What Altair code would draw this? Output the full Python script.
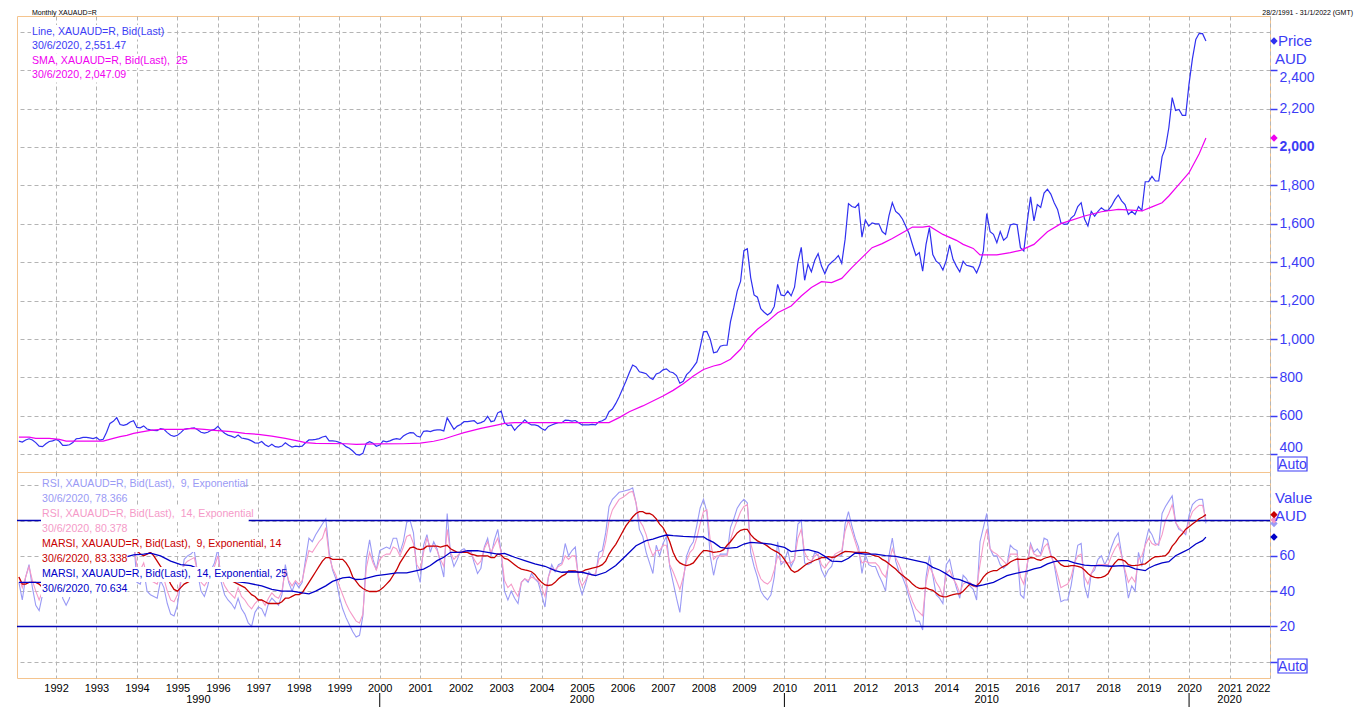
import altair as alt
import pandas as pd

# ---------------- values ----------------
# monthly closes, first value = Feb 1991 (month 1, counting from Jan 1991 = 0), last = Jun 2020
price = [
    469, 464, 475, 481, 475, 461, 443, 440, 455, 467,
    470, 478, 468, 447, 447, 450, 462, 481, 483, 488,
    488, 486, 482, 488, 474, 478, 515, 561, 572, 591,
    555, 551, 556, 568, 575, 540, 538, 548, 532, 527,
    525, 523, 534, 530, 513, 499, 494, 499, 513, 530,
    534, 535, 538, 528, 515, 510, 515, 525, 530, 546,
    525, 510, 500, 495, 487, 500, 485, 482, 478, 470,
    460, 458, 467, 450, 440, 452, 440, 438, 443, 460,
    447, 438, 443, 440, 443, 460, 475, 475, 478, 482,
    490, 495, 470, 470, 468, 462, 455, 440, 432, 417,
    400, 396, 405, 457, 466, 458, 442, 448, 470, 465,
    470, 478, 482, 478, 495, 506, 513, 512, 495, 490,
    520, 522, 518, 525, 527, 527, 522, 590, 560, 530,
    547, 555, 570, 570, 573, 575, 560, 565, 573, 598,
    570, 575, 616, 625, 565, 550, 553, 525, 545, 560,
    580, 563, 553, 553, 548, 535, 525, 545, 553, 560,
    565, 565, 578, 577, 573, 576, 565, 553, 553, 553,
    556, 553, 570, 575, 585, 622, 636, 665, 700, 740,
    780, 825, 865, 855, 830, 825, 820, 800, 790, 818,
    825, 840, 845, 830, 825, 810, 770, 780, 815, 832,
    855, 880, 955, 1038, 1040, 1000, 929, 933, 963, 968,
    968, 1090, 1165, 1250, 1300, 1460, 1470, 1320, 1230, 1218,
    1158, 1140, 1125, 1138, 1170, 1285, 1230, 1225, 1250, 1225,
    1270, 1400, 1478, 1306, 1390, 1350, 1410, 1445, 1380, 1340,
    1382, 1400, 1415, 1435, 1395, 1519, 1705, 1690, 1685, 1705,
    1531, 1620, 1588, 1605, 1600, 1600, 1560, 1545, 1641, 1710,
    1665, 1650, 1625, 1588, 1548, 1490, 1435, 1450, 1354, 1493,
    1580, 1440, 1406, 1392, 1360, 1410, 1490, 1415, 1380, 1350,
    1405, 1384, 1380, 1375, 1345, 1388, 1459, 1653, 1559, 1545,
    1502, 1560, 1515, 1530, 1594, 1600, 1595, 1476, 1459, 1610,
    1740, 1615, 1700, 1685, 1760, 1780, 1755, 1710, 1675, 1605,
    1597, 1600, 1630, 1645, 1690, 1710, 1625, 1589, 1665, 1640,
    1665, 1684, 1670, 1670, 1693, 1726, 1750, 1720, 1700, 1649,
    1665, 1649, 1690, 1670, 1819, 1820, 1847, 1823, 1823, 1950,
    1995, 2100, 2257, 2190, 2195, 2165, 2165, 2330, 2460, 2560,
    2592, 2590, 2551.47,
]

# SMA 25 of the price, read at the months where its course changes
sma_month = [
    1, 4, 6, 10, 13, 15, 26, 29, 31, 33, 35, 37, 40, 43, 50, 52, 56, 59, 64, 68,
    72, 76, 80, 84, 86, 89, 98, 101, 107, 115, 120, 124, 127, 130, 133, 138, 143, 145, 148, 176,
    179, 182, 186, 192, 195, 198, 201, 204, 207, 209, 212, 215, 217, 220, 223, 226, 230, 233, 236, 239,
    242, 245, 248, 251, 254, 257, 260, 263, 266, 269, 271, 275, 279, 281, 284, 286, 291, 295, 298, 302,
    306, 310, 313, 317, 322, 327, 332, 334, 337, 340, 342, 345, 348, 351, 353,
]
sma_value = [
    490, 490, 483, 483, 478, 469, 469, 483, 492, 499, 509, 516, 525, 530, 530, 535, 530, 525, 518, 509,
    504, 495, 483, 469, 461, 457, 455, 452, 454, 455, 458, 468, 480, 497, 513, 535, 553, 561, 565, 565,
    591, 622, 652, 704, 733, 768, 808, 842, 860, 868, 895, 947, 998, 1051, 1091, 1137, 1172, 1224, 1268, 1299,
    1294, 1316, 1372, 1424, 1476, 1497, 1524, 1554, 1583, 1583, 1588, 1545, 1514, 1493, 1472, 1438, 1438, 1450, 1462, 1493,
    1559, 1601, 1618, 1641, 1663, 1675, 1670, 1667, 1688, 1710, 1745, 1805, 1866, 1965, 2047.09,
]

# RSI 9 (exponential), monthly, Feb 1991 .. Jun 2020
rsi9 = [
    45, 35, 48, 55, 42, 32, 29, 38, 50, 58,
    60, 63, 45, 36, 32, 36, 48, 62, 63, 65,
    64, 60, 56, 62, 50, 52, 72, 85, 86, 88,
    65, 62, 64, 68, 70, 45, 44, 52, 40, 38,
    37, 36, 46, 42, 33, 27, 26, 32, 45, 58,
    60, 61, 63, 50, 40, 37, 43, 52, 56, 64,
    45, 38, 35, 33, 30, 36, 30, 27, 22, 20,
    28, 31, 30, 26, 33, 36, 34, 32, 38, 55,
    45, 40, 45, 42, 45, 58, 70, 68, 72, 75,
    78, 81, 62, 52, 47, 37, 30, 25, 21, 17,
    14, 15, 26, 58, 69, 58, 52, 63, 64, 65,
    64, 70, 70, 62, 68, 79, 80, 73, 52, 45,
    66, 72, 62, 68, 64, 56, 48, 84, 61, 54,
    58, 63, 64, 62, 63, 56, 50, 53, 65, 70,
    60, 69, 75, 62, 40, 35, 40, 36, 33, 45,
    47, 45, 50, 47, 45, 38, 31, 48, 55, 51,
    55, 56, 67, 60, 63, 65, 45, 38, 44, 51,
    49, 49, 62, 63, 73, 88, 92, 94, 96, 96.5,
    97, 97.5, 98.5, 90, 75, 71, 62, 56, 50, 66,
    60, 67, 71, 54, 45, 36, 28, 46, 60, 65,
    68, 77, 87, 92, 85, 60, 49, 58, 61, 61,
    61, 76, 81, 87, 90, 92, 90, 62, 54, 48,
    40, 37, 35, 38, 48, 68, 55, 57, 63, 54,
    58, 78, 80, 56, 55, 56, 62, 60, 52, 48,
    52, 54, 60, 60, 60, 78, 85, 77, 70, 65,
    50, 61, 55, 54, 54, 49, 45, 40, 60, 70,
    57, 51, 48, 43, 36, 30, 23, 23, 18, 48,
    60, 49, 38, 36, 33, 55, 58, 49, 42, 36,
    49, 47, 43, 41, 35, 68, 76, 84, 64, 60,
    60, 55, 53, 55, 66, 64, 63, 38, 36, 55,
    67, 62, 64, 61, 70, 69, 61, 55, 44, 34,
    35, 35, 43, 55, 66, 67, 43, 36, 50, 52,
    58, 60, 55, 59, 65, 70, 73, 61, 50, 36,
    43, 40, 62, 54, 67, 75, 72, 67, 66, 84,
    88, 91, 94, 79, 75, 74, 72, 83, 89, 91,
    92, 92, 78.366,
]

# RSI 14 (exponential), monthly
rsi14 = [
    48, 42, 48, 54, 46, 40, 35, 40, 48, 55,
    57, 60, 50, 42, 40, 42, 50, 60, 61, 62,
    62, 59, 56, 60, 52, 54, 68, 78, 80, 82,
    66, 64, 65, 67, 68, 54, 52, 56, 48, 46,
    45, 44, 50, 47, 40, 35, 34, 38, 46, 55,
    57, 58, 59, 51, 45, 43, 46, 51, 54, 60,
    48, 43, 40, 38, 36, 42, 37, 35, 32, 30,
    33, 35, 35, 32, 36, 39, 37, 36, 40, 52,
    46, 43, 46, 44, 46, 55, 63, 62, 65, 68,
    70, 76, 60, 53, 49, 43, 38, 33, 29, 26,
    23, 22, 27, 53, 62, 56, 52, 58, 60, 61,
    61, 65, 64, 60, 65, 71, 72, 67, 55, 52,
    62, 70, 65, 66, 63, 58, 54, 75, 62, 58,
    60, 62, 63, 62, 62, 58, 55, 57, 64, 68,
    62, 66, 70, 62, 46, 42, 44, 40, 37, 45,
    47, 46, 48, 47, 46, 42, 37, 48, 53, 52,
    54, 55, 60, 58, 60, 60, 48, 43, 46, 50,
    49, 50, 58, 60, 68, 80, 86, 89, 92, 93,
    94.5, 96, 96.5, 90, 80, 77, 72, 65, 60, 63,
    63, 66, 66, 55, 51, 46, 41, 48, 57, 62,
    64, 70, 78, 85, 86, 69, 58, 60, 60, 60,
    60, 69, 75, 80, 85, 88, 89, 67, 60, 52,
    47, 45, 44, 46, 52, 60, 57, 56, 56, 56,
    58, 70, 75, 62, 58, 57, 60, 61, 55, 53,
    56, 58, 61, 62, 63, 74, 80, 74, 68, 62,
    56, 57, 56, 56, 56, 54, 50, 48, 56, 64,
    59, 55, 50, 46, 39, 34, 30, 28, 26, 45,
    54, 50, 45, 42, 37, 50, 52, 47, 44, 39,
    44, 45, 45, 43, 42, 55, 67, 75, 64, 62,
    61, 59, 57, 55, 61, 61, 61, 48, 44, 55,
    66, 61, 60, 60, 65, 67, 60, 56, 49, 42,
    43, 44, 48, 56, 60, 61, 48, 44, 50, 54,
    55, 55, 55, 55, 60, 64, 67, 60, 52, 45,
    48, 45, 58, 60, 66, 70, 67, 66, 67, 72,
    80, 84, 89, 79, 76, 74, 73, 80, 85, 87,
    88.6, 88.6, 80.378,
]

# MARSI 9, Exponential, 14 - monthly
marsi9 = [
    48, 44, 44, 45, 45, 45, 44, 42, 44, 46,
    48, 50, 50, 48, 46, 45, 46, 48, 50, 52,
    54, 55, 55, 56, 55, 55, 57, 61, 64, 67,
    67, 67, 66, 66, 66, 63, 61, 60, 61, 62,
    60, 57, 54, 52, 48, 44, 41, 40, 42, 44,
    45, 46, 48, 48, 47, 46, 46, 47, 48, 50,
    49, 48, 47, 46, 45, 44, 43, 42, 40, 38,
    37, 35, 35, 34, 33, 33, 33, 33, 34, 36,
    36, 37, 38, 38, 39, 42, 45, 48, 51, 54,
    57, 59, 59, 58, 58, 58, 58, 56, 53, 48,
    45.5, 43, 41.5, 40.5, 39.8, 39.8, 39.8, 40.5, 42, 44,
    46, 49, 52, 56, 59, 62, 64.5, 65, 64, 63.5,
    64, 65.5, 65.5, 65.5, 65.5, 65, 65.5, 66, 64, 63,
    62, 62, 62, 62, 61, 60.5, 60, 60, 60, 60,
    59, 59, 61, 60.5, 58.5, 58, 56.5, 55, 53.5, 52.5,
    52, 51.6, 51, 49.5, 47, 45, 43.5, 43.2, 43.5, 45,
    47, 48.5, 49.5, 51.5, 51.5, 51.5, 50.5, 51, 52, 52.5,
    53, 53.5, 54, 55, 57, 61, 64, 66.5, 70, 73.5,
    77, 79.5, 82, 84, 85, 85, 84, 84, 83, 81,
    78, 76, 72.5, 68, 62, 58, 56, 55, 54.5, 55,
    56, 58.5, 61, 63, 63, 62.5, 62, 62.2, 62.5, 63.5,
    66, 68, 70.5, 73, 74.5, 75, 75, 72, 70, 68.5,
    67.5, 66.7, 65.5, 64, 63, 62, 60.5, 58, 55, 52,
    50.7, 51.5, 53, 54.5, 55.8, 56.5, 57.5, 58.2, 59, 59,
    59.5, 59.2, 59.3, 60.5, 61.5, 62.5, 62.4, 62.2, 62, 62,
    62, 62, 61.5, 60.5, 60, 59.5, 58, 57, 55.5, 54,
    52.5, 50.5, 49, 47.5, 46, 44, 42.5, 41.6, 41.5, 41.8,
    41, 40.5, 39, 37.5, 36.9, 36.8, 37.5, 38, 38.5, 38.5,
    40, 42, 44, 43, 43, 45, 48, 50, 51, 51.6,
    51.6, 53, 54, 55, 56.5, 57.5, 58.2, 58, 58, 58.2,
    59, 58.8, 57.8, 57.5, 58.5, 59.2, 59.7, 59, 57, 55,
    54, 54, 54.5, 54.5, 54, 53.5, 52, 50, 48.5, 47.8,
    47.6, 47.8, 48.5, 50, 53.5, 56, 58, 57.8, 57, 55,
    54.5, 54.6, 54.8, 55.2, 55.5, 57, 58.5, 59.5, 59.6, 59.8,
    60.1, 62, 65.5, 67.6, 70.5, 72.5, 75.1, 76.5, 78, 79.5,
    81, 82, 83.338,
]

# MARSI 14, Exponential, 25 - smooth, read where its course changes
marsi14_month = [
    1, 5, 8, 12, 16, 20, 24, 28, 32, 35, 38, 40, 43, 46, 49, 52, 55, 58, 61, 65,
    69, 73, 76, 79, 82, 85, 87, 89, 92, 94, 97, 99, 101, 103, 107, 110, 113, 116, 119, 121,
    123, 125, 127, 129, 132, 134, 137, 140, 143, 145, 148, 151, 154, 157, 160, 162, 165, 168, 172, 175,
    178, 181, 184, 187, 189, 191, 193, 195, 198, 201, 204, 205, 207, 209, 211, 214, 216, 218, 221, 224,
    226, 228, 230, 232, 235, 238, 240, 242, 245, 247, 249, 252, 255, 258, 261, 264, 267, 270, 272, 274,
    276, 278, 280, 282, 285, 287, 290, 292, 294, 296, 298, 300, 302, 304, 306, 308, 310, 312, 314, 317,
    319, 322, 325, 328, 330, 332, 335, 336, 338, 340, 342, 344, 346, 348, 350, 352, 353,
]
marsi14_value = [
    45, 45, 45, 47, 49, 52, 55, 57, 59, 60.5, 61, 61.5, 60, 57, 55, 54.5, 52, 50, 48, 45.5,
    44.5, 43, 41, 40, 40, 39, 38.5, 40, 43, 45.5, 47.5, 47.9, 46.6, 46.8, 48.8, 49.5, 50.3, 50.3, 51.6, 52.5,
    54.5, 57.3, 59.2, 62, 62, 62.9, 62.9, 62, 61, 61.4, 59.2, 57.3, 55.4, 54.1, 51.6, 50.7, 51, 50.7, 48.8, 50.7,
    54.5, 60.1, 65.7, 68.6, 69.5, 70.8, 71.8, 71.4, 71, 70.8, 70.8, 69.5, 67.6, 64.8, 64.2, 64.8, 66.7, 67.6, 67.2, 66.7,
    65.7, 64.8, 62.4, 62.9, 63.5, 62, 59.7, 57, 56.7, 58.6, 61.6, 61, 61, 60.1, 59.7, 58.6, 57.3, 56, 53.5, 52,
    49.8, 47.3, 46.5, 45, 42.8, 43.5, 45, 46.9, 48.8, 49.8, 50.7, 51.3, 52.6, 53.5, 55.4, 56.7, 57.3, 57.3, 56, 54.8,
    54.5, 54.5, 54.1, 54.5, 54.1, 52.6, 51.6, 53, 54.8, 56, 56.7, 60.1, 62, 63.9, 66.7, 68.6, 70.634,
]

rsi_levels = [20, 80]
year_ticks = list(range(1992, 2023))
price_ticks = [400, 600, 800, 1000, 1200, 1400, 1600, 1800, 2000, 2200, 2400, 2600]
value_ticks = [0, 20, 40, 60, 80, 100]
decade_names = ["1990", "2000", "2010", "2020"]
decade_bounds = [2000, 2010, 2020]

# ---------------- frames ----------------
X_START, X_END = 1991.036, 2022.0


def year_of(m):
    return 1991 + m / 12.0


months = list(range(1, len(price) + 1))
main = pd.DataFrame({
    "t": [year_of(m) for m in months],
    "price": price, "rsi9": rsi9, "rsi14": rsi14, "marsi9": marsi9,
})
sma = pd.DataFrame({"t": [year_of(m) for m in sma_month], "v": sma_value})
marsi14 = pd.DataFrame({"t": [year_of(m) for m in marsi14_month], "v": marsi14_value})
edges = [X_START] + decade_bounds + [X_END]
decades = pd.DataFrame({
    "name": decade_names,
    "mid": [(a + b) / 2 for a, b in zip(edges[:-1], edges[1:])],
})
bounds = pd.DataFrame({"b": decade_bounds})

# ---------------- style ----------------
FONT = "Liberation Sans"
W, H_UP, H_LO = 1253, 456, 206
GRID = "#b4b4b4"
BORDER = "#f5c48e"
TXT_BLUE = "#3c3cf5"
PRICE_BLUE = "#3030f0"
SMA_MAG = "#f000f0"
C_RSI9 = "#9a9af5"
C_RSI14 = "#f59ac8"
C_MARSI9 = "#c80000"
C_MARSI14 = "#0000c8"
C_LEVEL = "#0000b4"
LEG_SIZE = 10.6
SP = "\u00a0 "  # keeps the double blank of the original legend

xs = alt.Scale(domain=[X_START, X_END], nice=False, zero=False)
ys_up = alt.Scale(domain=[308, 2682], nice=False, zero=False)
ys_lo = alt.Scale(domain=[-9.2, 107.5], nice=False, zero=False)

x_axis_up = alt.Axis(values=year_ticks, grid=True, gridColor=GRID, gridDash=[4, 3],
                     labels=False, ticks=False, domain=False, title=None)
x_axis_lo = alt.Axis(values=year_ticks, format="d", grid=True, gridColor=GRID, gridDash=[4, 3],
                     ticks=False, domain=False, title=None, labelFont=FONT, labelFontSize=11,
                     labelColor="#000000", labelPadding=4, labelFlush=True, labelOverlap=False)

y_axis_up = alt.Axis(
    orient="right", values=price_ticks, format=",d", title=None,
    grid=True, gridColor=GRID, gridDash=[4, 3], domain=False,
    tickColor=TXT_BLUE, tickSize=7, tickWidth=1.5,
    tickOpacity={"condition": {"test": "datum.value > 2500", "value": 0}, "value": 1},
    labelColor=TXT_BLUE, labelFont=FONT, labelFontSize=14, labelPadding=2,
    labelFontWeight={"condition": {"test": "datum.value == 2000", "value": "bold"}, "value": "normal"},
    labelBaseline={"condition": [{"test": "datum.value == 400", "value": "bottom"},
                                 {"test": "datum.value == 2400", "value": "top"}],
                   "value": "middle"},
    labelExpr="datum.value > 2500 ? '' : datum.label",
)
y_axis_lo = alt.Axis(
    orient="right", values=value_ticks, title=None,
    grid=True, gridColor=GRID, gridDash=[4, 3], domain=False,
    tickColor=TXT_BLUE, tickSize=7, tickWidth=1.5,
    tickOpacity={"condition": {"test": "datum.value > 70", "value": 0}, "value": 1},
    labelColor=TXT_BLUE, labelFont=FONT, labelFontSize=14, labelPadding=2,
    labelExpr="(datum.value > 10 && datum.value < 70) ? datum.label : ''",
)


def label(text, x, y, color, size=LEG_SIZE, align="left", baseline="middle"):
    return alt.Chart(pd.DataFrame({"s": [text]})).mark_text(
        align=align, baseline=baseline, color=color, fontSize=size, font=FONT
    ).encode(x=alt.value(x), y=alt.value(y), text="s:N")


def backdrop(x, y, w, h, stroke=None):
    kw = {"fill": "white"}
    if stroke:
        kw.update(stroke=stroke, strokeWidth=1.2)
    return alt.Chart(pd.DataFrame({"k": [0]})).mark_rect(**kw).encode(
        x=alt.value(x), x2=alt.value(x + w), y=alt.value(y), y2=alt.value(y + h))


def legend_block(rows, x, y0, step):
    layers = [backdrop(x - 1, y0 - 7, 4.85 * len(t) + 4, step) for t, _ in rows]
    layers += [label(t, x, y0 + step * i, c) for i, (t, c) in enumerate(rows)]
    # shift the backdrops to their own rows
    layers = [backdrop(x - 1, y0 - 7 + step * i, 4.85 * len(t) + 4, step) for i, (t, _) in enumerate(rows)] + \
             [label(t, x, y0 + step * i, c) for i, (t, c) in enumerate(rows)]
    return layers


def marker(value, scale, axis, color):
    return alt.Chart(pd.DataFrame({"v": [value]})).mark_point(
        shape="diamond", filled=True, color=color, size=55, opacity=1
    ).encode(x=alt.value(W + 4), y=alt.Y("v:Q", scale=scale, axis=axis))


# ---------------- upper panel: price + SMA ----------------
price_line = alt.Chart(main).mark_line(color=PRICE_BLUE, strokeWidth=1.2).encode(
    x=alt.X("t:Q", scale=xs, axis=x_axis_up),
    y=alt.Y("price:Q", scale=ys_up, axis=y_axis_up),
)
sma_line = alt.Chart(sma).mark_line(color=SMA_MAG, strokeWidth=1.2).encode(
    x=alt.X("t:Q", scale=xs, axis=x_axis_up),
    y=alt.Y("v:Q", scale=ys_up, axis=y_axis_up),
)

upper_rows = [
    ("Line, XAUAUD=R, Bid(Last)", TXT_BLUE),
    ("30/6/2020, 2,551.47", TXT_BLUE),
    ("SMA, XAUAUD=R, Bid(Last)," + SP + "25", SMA_MAG),
    ("30/6/2020, 2,047.09", SMA_MAG),
]

upper = alt.layer(
    price_line, sma_line,
    *legend_block(upper_rows, 15, 16, 14.4),
    label("Monthly XAUAUD=R", 15, -7, "#000000", size=7, baseline="top"),
    label("28/2/1991 - 31/1/2022 (GMT)", 1336, -7, "#000000", size=7, align="right", baseline="top"),
    marker(price[-1], ys_up, y_axis_up, PRICE_BLUE),
    marker(sma_value[-1], ys_up, y_axis_up, SMA_MAG),
    label("Price", W + 8, 25, TXT_BLUE, size=15),
    label("AUD", W + 5, 43, TXT_BLUE, size=15),
    backdrop(W + 8, 441, 29, 14, stroke=TXT_BLUE),
    label("Auto", W + 22.5, 448.5, TXT_BLUE, size=14, align="center"),
).properties(width=W, height=H_UP)

# ---------------- lower panel: RSI / MARSI ----------------
def series_line(data, field, color, width):
    return alt.Chart(data).mark_line(color=color, strokeWidth=width).encode(
        x=alt.X("t:Q", scale=xs, axis=x_axis_lo),
        y=alt.Y(f"{field}:Q", scale=ys_lo, axis=y_axis_lo),
    )


rsi9_line = series_line(main, "rsi9", C_RSI9, 1.1)
rsi14_line = series_line(main, "rsi14", C_RSI14, 1.1)
marsi9_line = series_line(main, "marsi9", C_MARSI9, 1.3)
marsi14_line = series_line(marsi14, "v", C_MARSI14, 1.3)
levels = alt.Chart(pd.DataFrame({"lvl": rsi_levels})).mark_rule(color=C_LEVEL, strokeWidth=1.5).encode(
    y=alt.Y("lvl:Q", scale=ys_lo, axis=y_axis_lo))

lower_rows = [
    ("RSI, XAUAUD=R, Bid(Last)," + SP + "9, Exponential", C_RSI9),
    ("30/6/2020, 78.366", C_RSI9),
    ("RSI, XAUAUD=R, Bid(Last)," + SP + "14, Exponential", C_RSI14),
    ("30/6/2020, 80.378", C_RSI14),
    ("MARSI, XAUAUD=R, Bid(Last)," + SP + "9, Exponential, 14", C_MARSI9),
    ("30/6/2020, 83.338", C_MARSI9),
    ("MARSI, XAUAUD=R, Bid(Last)," + SP + "14, Exponential, 25", C_MARSI14),
    ("30/6/2020, 70.634", C_MARSI14),
]

decade_text = alt.Chart(decades).mark_text(fontSize=11, font=FONT, color="#000000", baseline="middle").encode(
    x=alt.X("mid:Q", scale=xs, axis=x_axis_lo), y=alt.value(228), text="name:N")
decade_ticks = alt.Chart(bounds).mark_rule(color="#000000", strokeWidth=1).encode(
    x=alt.X("b:Q", scale=xs, axis=x_axis_lo), y=alt.value(221), y2=alt.value(235))

lower = alt.layer(
    rsi9_line, rsi14_line, levels, marsi9_line, marsi14_line,
    *legend_block(lower_rows, 25, 12, 15),
    marker(rsi9[-1], ys_lo, y_axis_lo, C_RSI9),
    marker(rsi14[-1], ys_lo, y_axis_lo, C_RSI14),
    marker(marsi9[-1], ys_lo, y_axis_lo, C_MARSI9),
    marker(marsi14_value[-1], ys_lo, y_axis_lo, C_MARSI14),
    label("Value", W + 5, 26, TXT_BLUE, size=15),
    label("AUD", W + 5, 44, TXT_BLUE, size=15),
    backdrop(W + 8, 187, 29, 14, stroke=TXT_BLUE),
    label("Auto", W + 22.5, 194.5, TXT_BLUE, size=14, align="center"),
    decade_text, decade_ticks,
).properties(width=W, height=H_LO)

chart = alt.vconcat(upper, lower, spacing=0, bounds="flush").properties(
    padding={"left": 7, "top": 0, "right": 0, "bottom": 0},
    background="white",
).configure_view(stroke=BORDER, strokeWidth=1)

chart.save("out.html", embed_options={"renderer": "svg", "actions": False})
